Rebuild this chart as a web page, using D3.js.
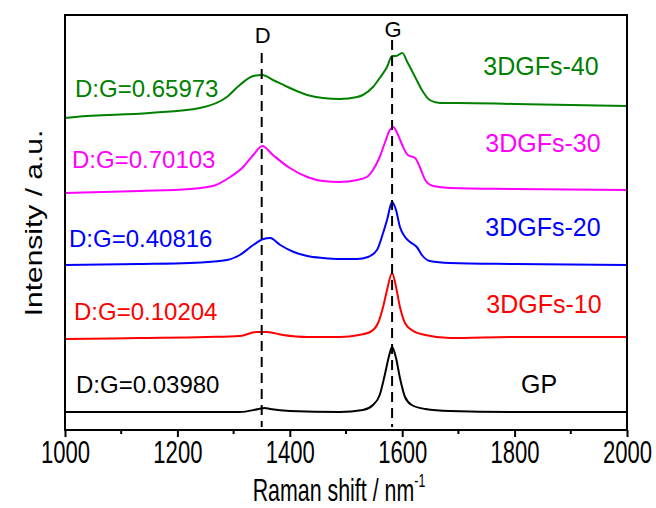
<!DOCTYPE html>
<html>
<head>
<meta charset="utf-8">
<script src="https://cdn.jsdelivr.net/npm/d3@7"></script>
<style>
  body { margin: 0; background: #fff; }
  text { font-family: "Liberation Sans", Arial, sans-serif; }
</style>
</head>
<body>
<script>
const majorTicks = [1000, 1200, 1400, 1600, 1800, 2000];
const minorTicks = [1100, 1300, 1500, 1700, 1900];
const samples = ['GP', '3DGFs-10', '3DGFs-20', '3DGFs-30', '3DGFs-40'];
const ratios = ['D:G=0.03980', 'D:G=0.10204', 'D:G=0.40816', 'D:G=0.70103', 'D:G=0.65973'];
const bands = [{ name: 'D', shift: 1350 }, { name: 'G', shift: 1582 }];

// [Raman shift, stacked intensity (a.u.)]
const gp = [[1000, 18], [1133, 18], [1252, 18], [1311, 18], [1345, 21], [1355, 22], [1365, 21], [1400, 19], [1489, 18],
  [1530, 20], [1548, 25], [1560, 35], [1569, 55], [1577, 75], [1582, 83], [1589, 72], [1596, 52], [1605, 33],
  [1617, 25], [1641, 21], [1685, 19], [1800, 18], [2000, 18]];
const gf10 = [[1000, 91], [1133, 92], [1252, 93], [1311, 94], [1341, 98], [1359, 98], [1388, 95], [1431, 93], [1489, 93],
  [1523, 95], [1543, 98], [1557, 107], [1566, 123], [1573, 140], [1582, 157], [1589, 143], [1596, 123], [1605, 107],
  [1617, 100], [1641, 95], [1685, 92], [1800, 93], [2000, 93]];
const gf20 = [[1000, 165], [1133, 166], [1222, 167], [1288, 170], [1311, 175], [1335, 185], [1353, 191], [1365, 192],
  [1383, 185], [1407, 178], [1431, 174], [1459, 172], [1489, 171], [1520, 171], [1539, 173], [1555, 180], [1566, 197],
  [1573, 210], [1582, 228], [1589, 220], [1596, 203], [1605, 193], [1614, 188], [1626, 183], [1635, 175], [1649, 169],
  [1685, 167], [1800, 166], [2000, 165]];
const gf30 = [[1000, 237], [1133, 239], [1222, 241], [1263, 244], [1294, 253], [1317, 263], [1335, 275], [1351, 284],
  [1370, 275], [1400, 262], [1431, 253], [1459, 249], [1489, 248], [1520, 250], [1537, 253], [1548, 260], [1560, 273],
  [1569, 287], [1578, 300], [1584, 303], [1591, 297], [1600, 285], [1610, 275], [1623, 272], [1632, 262], [1641, 250],
  [1655, 244], [1685, 242], [1800, 241], [2000, 240]];
const gf40 = [[1000, 312], [1018, 313], [1151, 317], [1240, 322], [1288, 333], [1311, 345], [1335, 354], [1351, 355],
  [1370, 350], [1400, 342], [1431, 335], [1459, 332], [1489, 331], [1520, 333], [1530, 335], [1548, 343], [1560, 352],
  [1573, 363], [1582, 374], [1589, 374], [1600, 377], [1610, 367], [1623, 353], [1635, 340], [1649, 330], [1667, 327],
  [1700, 327], [1800, 326], [1900, 325], [2000, 324]];
const spectra = [gp, gf10, gf20, gf30, gf40];

const colors = ['#000000', '#ff0000', '#0000ff', '#ff00ff', '#008000'];
const leftPos = [[76, 393], [74, 320], [69, 247], [72, 168], [75, 97]];
const rightPos = [[539, 393], [544, 313], [543, 236], [543, 152], [541, 75]];

const width = 656, height = 508;
const margin = { top: 15, right: 29, bottom: 78, left: 65 };
const squeeze = 0.69; // axis text is narrow in the original

const svg = d3.select('body').append('svg')
  .attr('width', width)
  .attr('height', height);

const x = d3.scaleLinear().domain([1000, 2000]).range([margin.left, width - margin.right]);
const y = d3.scaleLinear().domain([0, 415]).range([height - margin.bottom, margin.top]);

const line = d3.line()
  .x(d => x(d[0]))
  .y(d => y(d[1]))
  .curve(d3.curveMonotoneX);

svg.append('g')
  .selectAll('path')
  .data(spectra)
  .enter().append('path')
    .attr('d', line)
    .attr('fill', 'none')
    .attr('stroke', (d, i) => colors[i])
    .attr('stroke-width', 2)
    .attr('stroke-linejoin', 'round');

svg.append('g')
  .selectAll('line')
  .data(bands)
  .enter().append('line')
    .attr('x1', d => x(d.shift))
    .attr('x2', d => x(d.shift))
    .attr('y1', d => d.name === 'D' ? 53 : 40)
    .attr('y2', y(0) - 3)
    .attr('stroke', '#000')
    .attr('stroke-width', 2)
    .attr('stroke-dasharray', '10,6');

svg.append('g')
  .selectAll('text')
  .data(bands)
  .enter().append('text')
    .attr('x', d => x(d.shift) + 1)
    .attr('y', d => d.name === 'D' ? 43 : 37)
    .attr('text-anchor', 'middle')
    .attr('font-size', 22)
    .text(d => d.name);

svg.append('g')
  .selectAll('text')
  .data(ratios)
  .enter().append('text')
    .attr('x', (d, i) => leftPos[i][0])
    .attr('y', (d, i) => leftPos[i][1])
    .attr('font-size', 24)
    .attr('fill', (d, i) => colors[i])
    .text(d => d);

svg.append('g')
  .selectAll('text')
  .data(samples)
  .enter().append('text')
    .attr('x', (d, i) => rightPos[i][0])
    .attr('y', (d, i) => rightPos[i][1])
    .attr('text-anchor', 'middle')
    .attr('font-size', 25)
    .attr('fill', (d, i) => colors[i])
    .text(d => d);

const xAxis = svg.append('g')
  .attr('transform', `translate(0,${y(0)})`)
  .call(d3.axisBottom(x).tickValues(majorTicks).tickSize(7).tickSizeOuter(0).tickFormat(d3.format('d')));
xAxis.select('.domain').remove();
xAxis.selectAll('line').attr('stroke-width', 2);
xAxis.selectAll('text')
  .attr('y', 33)
  .attr('dy', 0)
  .attr('transform', `scale(${squeeze},1)`)
  .attr('font-size', 32)
  .attr('font-family', '"Liberation Sans", Arial, sans-serif')
  .attr('fill', '#000');

svg.append('g')
  .attr('transform', `translate(0,${y(0)})`)
  .selectAll('line')
  .data(minorTicks)
  .enter().append('line')
    .attr('x1', d => x(d))
    .attr('x2', d => x(d))
    .attr('y2', 4)
    .attr('stroke', '#000')
    .attr('stroke-width', 2);

svg.append('rect')
  .attr('x', x(1000))
  .attr('y', y(415))
  .attr('width', x(2000) - x(1000))
  .attr('height', y(0) - y(415))
  .attr('fill', 'none')
  .attr('stroke', '#000')
  .attr('stroke-width', 2);

const title = svg.append('text')
  .attr('transform', `translate(339,501) scale(${squeeze},1)`)
  .attr('text-anchor', 'middle')
  .attr('font-size', 31);
title.append('tspan').text('Raman shift / nm');
title.append('tspan').attr('dy', -14).attr('font-size', 18).text('-1');

svg.append('text')
  .attr('transform', 'translate(42,223) rotate(-90) scale(1,0.8)')
  .attr('text-anchor', 'middle')
  .attr('font-size', 30)
  .text('Intensity / a.u.');
</script>
</body>
</html>
